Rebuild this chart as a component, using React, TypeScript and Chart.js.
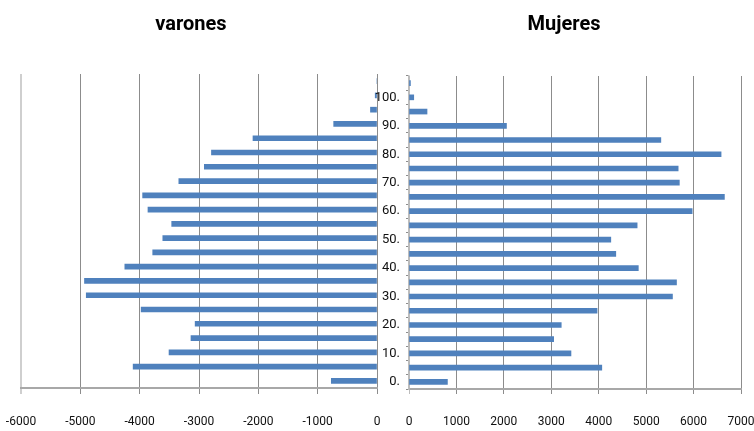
import React, { useEffect, useRef } from "react";
import { Chart, registerables } from "chart.js";

Chart.register(...registerables);

// Age groups from bottom (0) to top (105)
const ageGroups = ["0", "5", "10", "15", "20", "25", "30", "35", "40", "45", "50", "55", "60", "65", "70", "75", "80", "85", "90", "95", "100", "105"];
const varones = [-770, -4110, -3505, -3135, -3065, -3975, -4900, -4930, -4250, -3780, -3610, -3460, -3860, -3950, -3340, -2910, -2790, -2090, -730, -110, -30, 0];
const mujeres = [810, 4065, 3415, 3050, 3210, 3965, 5555, 5640, 4835, 4360, 4255, 4810, 5970, 6650, 5700, 5675, 6580, 5310, 2055, 380, 100, 30];
const shownAgeLabels = ["0", "10", "20", "30", "40", "50", "60", "70", "80", "90", "100"];

const leftTitle = "varones";
const rightTitle = "Mujeres";

const BAR = "#4F81BD";
const GRID = "#8c8c8c";
const FONT = "Roboto, 'Liberation Sans', sans-serif";

function PyramidHalf(props: { side: "left" | "right"; left: number; width: number }) {
  const ref = useRef<HTMLCanvasElement | null>(null);
  useEffect(() => {
    const canvas = ref.current;
    if (!canvas) return;
    const isLeft = props.side === "left";
    const scales: any = {
      x: {
        type: "linear",
        min: isLeft ? -6000 : 0,
        max: isLeft ? 0 : 7000,
        afterFit: (s: any) => {
          s.height = isLeft ? 43 : 42;
          s.paddingLeft = 0;
          s.paddingRight = 0;
        },
        ticks: {
          stepSize: 1000,
          color: "#111",
          font: { family: FONT, size: 12 },
          padding: 21,
          maxRotation: 0,
          autoSkip: false,
          callback: (v: any) => String(v),
        },
        grid: {
          color: (c: any) => {
            const v = c.tick ? c.tick.value : null;
            if (isLeft && v === -6000) return "#cfcfcf";
            if (!isLeft && v === 0) return "#bdbdbd";
            return GRID;
          },
          lineWidth: (c: any) => {
            const v = c.tick ? c.tick.value : null;
            if (isLeft && v === -6000) return 2;
            return 1;
          },
          drawTicks: true,
          tickLength: isLeft ? 6 : 5,
        },
        border: { display: true, color: "#a8a8a8", width: 2 },
      },
      y: {
        type: "category",
        reverse: true,
        position: "left",
        afterFit: (s: any) => {
          s.width = isLeft ? 16 : 35;
          s.paddingTop = 0;
          s.paddingBottom = 0;
        },
        ticks: {
          display: !isLeft,
          autoSkip: false,
          color: "#111",
          font: { family: FONT, size: 13 },
          padding: 6,
          callback: (_v: any, i: number) => {
            const lab = ageGroups[i];
            return shownAgeLabels.includes(lab) ? lab + "." : "";
          },
        },
        grid: {
          display: !isLeft,
          drawOnChartArea: false,
          drawTicks: true,
          tickLength: 3,
          offset: true,
          color: GRID,
        },
        border: { display: !isLeft, color: "#bdbdbd", width: 1.5 },
      },
    };
    if (!isLeft) {
      scales.y2 = {
        type: "category",
        axis: "y",
        position: "right",
        reverse: true,
        afterFit: (s: any) => {
          s.width = 13;
          s.paddingTop = 0;
          s.paddingBottom = 0;
        },
        ticks: { display: false },
        grid: { display: false },
        border: { display: false },
      };
    }
    const chart = new Chart(canvas, {
      type: "bar",
      data: {
        labels: ageGroups,
        datasets: [
          {
            data: isLeft ? varones : mujeres,
            backgroundColor: BAR,
            borderWidth: 0,
            barThickness: 5,
          },
        ],
      },
      options: {
        indexAxis: "y",
        responsive: false,
        animation: false,
        devicePixelRatio: 1,
        layout: {
          padding: isLeft
            ? { left: 5, right: 9, top: 0, bottom: 0 }
            : { left: 14, right: 0, top: 0, bottom: 0 },
        },
        plugins: {
          legend: { display: false },
          tooltip: { enabled: false },
          title: {
            display: true,
            text: isLeft ? leftTitle : rightTitle,
            color: "#000",
            font: { family: FONT, size: 20, weight: "bold" },
            padding: { top: 13, bottom: isLeft ? 37 : 39 },
          },
        },
        scales,
      },
    } as any);
    return () => chart.destroy();
  }, []);
  return (
    <canvas
      ref={ref}
      width={props.width}
      height={431}
      style={{ position: "absolute", left: props.left, top: 0, width: props.width, height: 431 }}
    />
  );
}

export default function App() {
  return (
    <div
      style={{
        position: "fixed",
        left: 0,
        top: 0,
        width: 754,
        height: 431,
        background: "#fff",
        overflow: "hidden",
      }}
    >
      <PyramidHalf side="left" left={0} width={386} />
      <PyramidHalf side="right" left={360} width={394} />
    </div>
  );
}
